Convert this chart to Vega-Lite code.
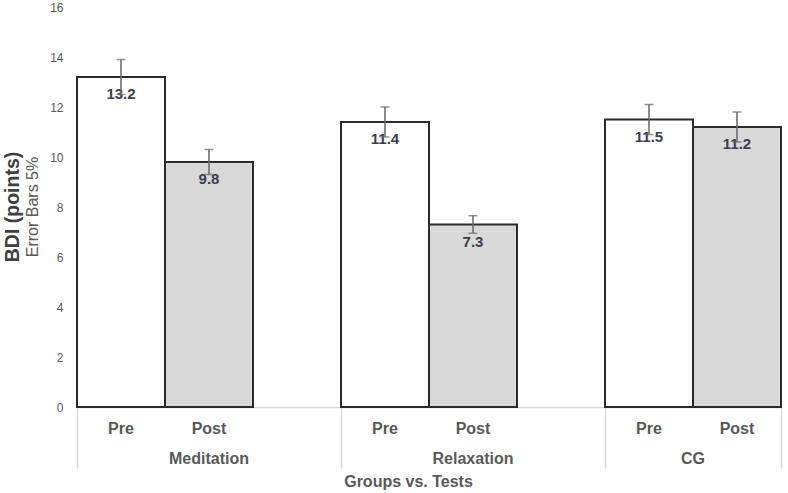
{
  "$schema": "https://vega.github.io/schema/vega-lite/v6.json",
  "width": 704,
  "height": 400,
  "autosize": {"type": "none"},
  "padding": {"left": 77, "top": 7, "right": 7, "bottom": 86},
  "background": "white",
  "config": {"view": {"stroke": null}, "font": "Liberation Sans"},
  "title": {
    "text": "BDI (points)",
    "subtitle": "Error Bars 5%",
    "orient": "left",
    "anchor": "middle",
    "font": "Liberation Sans",
    "fontSize": 19.5,
    "fontWeight": "bold",
    "color": "#404040",
    "subtitleFont": "Liberation Sans",
    "subtitleFontSize": 16,
    "subtitleColor": "#595959",
    "subtitlePadding": 1,
    "offset": 8
  },
  "data": {
    "values": [
      {"group": "Meditation", "test": "Pre", "value": 13.2, "lo": 12.5, "hi": 13.9},
      {"group": "Meditation", "test": "Post", "value": 9.8, "lo": 9.3, "hi": 10.3},
      {"group": "Relaxation", "test": "Pre", "value": 11.4, "lo": 10.8, "hi": 12.0},
      {"group": "Relaxation", "test": "Post", "value": 7.3, "lo": 6.95, "hi": 7.65},
      {"group": "CG", "test": "Pre", "value": 11.5, "lo": 10.9, "hi": 12.1},
      {"group": "CG", "test": "Post", "value": 11.2, "lo": 10.6, "hi": 11.8}
    ]
  },
  "transform": [{"calculate": "datum.group + '|' + datum.test", "as": "slot"}],
  "resolve": {"axis": {"x": "independent"}},
  "layer": [
    {
      "mark": {"type": "bar", "stroke": "#2b2b2b", "strokeWidth": 2},
      "encoding": {
        "x": {
          "field": "slot",
          "type": "nominal",
          "sort": null,
          "scale": {
            "domain": ["Meditation|Pre", "Meditation|Post", "Meditation|_", "Relaxation|Pre", "Relaxation|Post", "Relaxation|_", "CG|Pre", "CG|Post"],
            "paddingInner": 0,
            "paddingOuter": 0
          },
          "axis": {
            "orient": "bottom",
            "title": "Groups vs. Tests",
            "titleFont": "Liberation Sans",
            "titleFontSize": 16,
            "titleFontWeight": "bold",
            "titleColor": "#595959",
            "titleBaseline": "alphabetic",
            "titleX": 331,
            "titleY": 79,
            "bandPosition": 1,
            "labelOffset": 0,
            "labelAngle": 0,
            "labelExpr": "indexof(datum.value, '|Pre') >= 0 ? 'Pre' : (indexof(datum.value, '|Post') >= 0 ? 'Post' : '')",
            "labelFont": "Liberation Sans",
            "labelFontSize": 16,
            "labelFontWeight": "bold",
            "labelColor": "#595959",
            "labelBaseline": "alphabetic",
            "labelPadding": -35,
            "labelOverlap": false,
            "labelBound": false,
            "labelFlush": false,
            "ticks": true,
            "tickSize": 61,
            "tickColor": "#d9d9d9",
            "tickWidth": 1.5,
            "tickOpacity": {"condition": {"test": "datum.value === 'CG|Post'", "value": 1}, "value": 0},
            "domain": true,
            "domainColor": "#d9d9d9",
            "domainWidth": 1.5,
            "grid": false
          }
        },
        "y": {
          "field": "value",
          "type": "quantitative",
          "scale": {"domain": [0, 16], "nice": false},
          "axis": {
            "title": null,
            "values": [0, 2, 4, 6, 8, 10, 12, 14, 16],
            "labelFont": "Liberation Sans",
            "labelFontSize": 12,
            "labelColor": "#595959",
            "labelPadding": 14,
            "ticks": false,
            "domain": false,
            "grid": false
          }
        },
        "fill": {
          "field": "test",
          "type": "nominal",
          "scale": {"domain": ["Pre", "Post"], "range": ["#ffffff", "#d9d9d9"]},
          "legend": null
        }
      }
    },
    {
      "mark": {"type": "text", "font": "Liberation Sans", "fontSize": 15, "fontWeight": "bold", "color": "#3d3d52", "dy": 17},
      "encoding": {
        "x": {"field": "slot", "type": "nominal", "sort": null, "axis": null},
        "y": {"field": "value", "type": "quantitative", "title": null},
        "text": {"field": "value", "type": "quantitative", "format": ".1f"}
      }
    },
    {
      "mark": {"type": "errorbar", "color": "#666666", "thickness": 1.5, "ticks": {"size": 9, "thickness": 1.5, "color": "#666666"}},
      "encoding": {
        "x": {
          "field": "slot",
          "type": "nominal",
          "sort": null,
          "axis": {
            "orient": "bottom",
            "title": null,
            "bandPosition": 0,
            "labelAngle": 0,
            "labelExpr": "datum.value === 'Meditation|Pre' ? 'Meditation' : (datum.value === 'Relaxation|Pre' ? 'Relaxation' : (datum.value === 'CG|Pre' ? 'CG' : ''))",
            "labelOffset": {"condition": {"test": "datum.value === 'CG|Pre'", "value": 44}, "value": 88},
            "labelFont": "Liberation Sans",
            "labelFontSize": 16,
            "labelFontWeight": "bold",
            "labelColor": "#595959",
            "labelBaseline": "alphabetic",
            "labelPadding": -5,
            "labelOverlap": false,
            "labelBound": false,
            "labelFlush": false,
            "ticks": true,
            "tickSize": 61,
            "tickColor": "#d9d9d9",
            "tickWidth": 1.5,
            "tickOpacity": {"condition": {"test": "indexof(datum.value, '|Pre') >= 0", "value": 1}, "value": 0},
            "domain": false,
            "grid": false
          }
        },
        "y": {"field": "lo", "type": "quantitative", "title": null},
        "y2": {"field": "hi"}
      }
    }
  ]
}
